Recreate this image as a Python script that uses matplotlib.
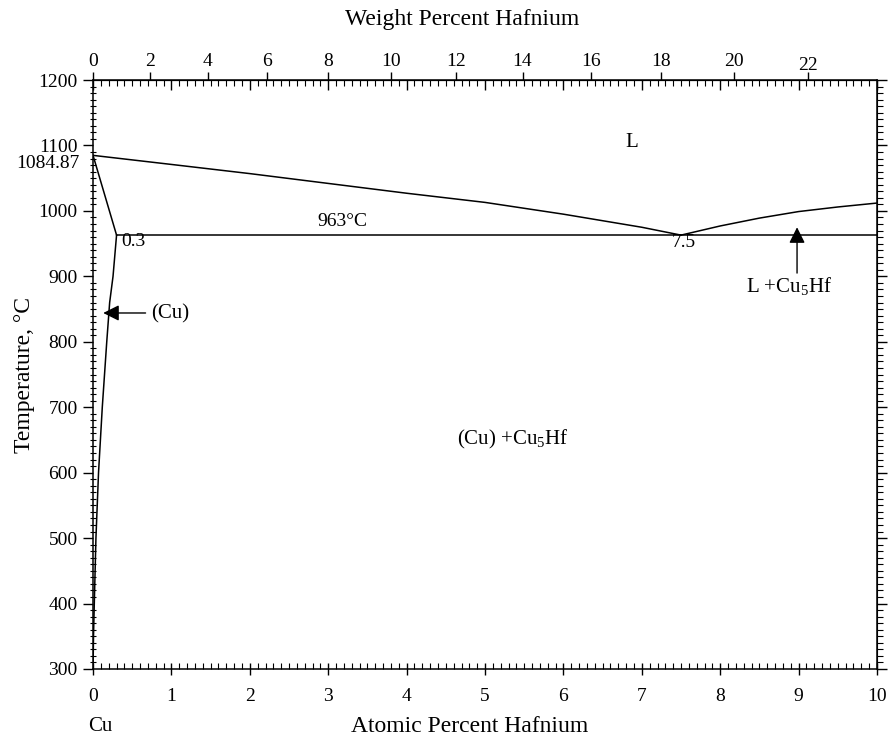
import numpy as np
import matplotlib
matplotlib.use('Agg')
import matplotlib.pyplot as plt
from matplotlib.ticker import MultipleLocator, FixedLocator, NullLocator

plt.rcParams['font.family'] = ['Liberation Serif', 'DejaVu Serif']
plt.rcParams['mathtext.fontset'] = 'custom'
plt.rcParams['mathtext.rm'] = 'Liberation Serif'
plt.rcParams['mathtext.it'] = 'Liberation Serif:italic'

# ── data (atomic % Hf, temperature °C) ───────────────────────
M_CU, M_HF = 63.546, 178.49

liq_left_x = [0, 1, 2, 3, 4, 5, 6, 7, 7.5]
liq_left_t = [1084.87, 1071, 1057, 1042, 1027, 1013, 995, 975, 963]

liq_right_x = [7.5, 8, 8.5, 9, 9.5, 10]
liq_right_t = [963, 977, 989, 999, 1006, 1012]

solidus_x = [0, 0.3]
solidus_t = [1084.87, 963]

solvus_x = [0.3, 0.255, 0.212, 0.175, 0.118, 0.07, 0.037, 0.016, 0.006, 0.0]
solvus_t = [963, 900, 860, 800, 700, 600, 500, 400, 350, 300]

eutectic_x = [0.3, 10]
eutectic_t = [963, 963]

at_ticks = [0, 1, 2, 3, 4, 5, 6, 7, 8, 9, 10]
t_ticks = [300, 400, 500, 600, 700, 800, 900, 1000, 1100, 1200]
wt_ticks = [0, 2, 4, 6, 8, 10, 12, 14, 16, 18, 20, 22]


def at2wt(a):
    a = np.asarray(a, dtype=float)
    return 100 * a * M_HF / (a * M_HF + (100 - a) * M_CU)


def wt2at(w):
    w = np.asarray(w, dtype=float)
    return 100 * (w / M_HF) / (w / M_HF + (100 - w) / M_CU)


fig = plt.figure(figsize=(8.92, 7.41), dpi=100)
ax = fig.add_axes([0.1043, 0.0972, 0.8789, 0.7948])

lw = 1.1
ax.plot(liq_left_x, liq_left_t, 'k-', lw=lw)
ax.plot(liq_right_x, liq_right_t, 'k-', lw=lw)
ax.plot(solidus_x, solidus_t, 'k-', lw=lw)
ax.plot(solvus_x, solvus_t, 'k-', lw=lw)
ax.plot(eutectic_x, eutectic_t, 'k-', lw=lw)

ax.set_xlim(0, 10)
ax.set_ylim(300, 1200)

fs = 14      # tick labels
fs_lab = 17  # axis titles
fs_txt = 15  # phase labels

# bottom / left ticks
ax.xaxis.set_major_locator(FixedLocator(at_ticks))
ax.xaxis.set_minor_locator(MultipleLocator(0.1))
ax.yaxis.set_major_locator(FixedLocator(t_ticks))
ax.yaxis.set_minor_locator(MultipleLocator(10))
ax.tick_params(axis='x', which='major', direction='inout', length=9, width=1, labelsize=fs, pad=9)
ax.tick_params(axis='x', which='minor', direction='in', length=4, width=0.8)
ax.tick_params(axis='y', which='major', direction='out', length=7, width=1, labelsize=fs, pad=4)
ax.tick_params(axis='y', which='minor', direction='inout', length=5, width=0.8)
for s in ax.spines.values():
    s.set_linewidth(1.1)

# top: atomic ticks pointing in
top_at = ax.secondary_xaxis('top', functions=(lambda x: x, lambda x: x))
top_at.xaxis.set_major_locator(FixedLocator(at_ticks))
top_at.xaxis.set_minor_locator(MultipleLocator(0.1))
top_at.tick_params(which='major', direction='in', length=7, width=1, labeltop=False)
top_at.tick_params(which='minor', direction='in', length=4, width=0.8)

# top: weight percent scale
top_wt = ax.secondary_xaxis('top', functions=(at2wt, wt2at))
top_wt.xaxis.set_major_locator(FixedLocator(wt_ticks))
top_wt.xaxis.set_minor_locator(NullLocator())
top_wt.tick_params(which='major', direction='out', length=6, width=1, labelsize=fs, pad=1.5)
top_wt.set_xlabel('Weight Percent Hafnium', fontsize=fs_lab, va='center')
top_wt.xaxis.set_label_coords(0.471, 1.102, transform=ax.transAxes)
wt_tick_objs = top_wt.xaxis.get_major_ticks()
if len(wt_tick_objs) == len(wt_ticks):
    wt_tick_objs[-1].set_pad(-2)

# right: ticks pointing out
right = ax.secondary_yaxis('right', functions=(lambda y: y, lambda y: y))
right.yaxis.set_major_locator(FixedLocator(t_ticks))
right.yaxis.set_minor_locator(MultipleLocator(10))
right.tick_params(which='major', direction='out', length=7, width=1, labelright=False)
right.tick_params(which='minor', direction='out', length=4, width=0.8)

ax.set_xlabel('Atomic Percent Hafnium', fontsize=fs_lab, va='center')
ax.xaxis.set_label_coords(0.48, -0.097)
ax.set_ylabel('Temperature, °C', fontsize=fs_lab)
ax.yaxis.set_label_coords(-0.0735, 0.5)

# melting point of Cu as extra label
ax.annotate('1084.87', xy=(0, 1084.87), xycoords=('axes fraction', 'data'),
            xytext=(-13, -8), textcoords='offset pixels',
            ha='right', va='center', fontsize=fs)
ax.annotate('Cu', xy=(0, 0), xycoords='axes fraction',
            xytext=(7, -58), textcoords='offset pixels',
            ha='center', va='center', fontsize=fs_txt)

# phase labels
ax.text(6.875, 1105, 'L', ha='center', va='center', fontsize=fs_txt)
ax.text(3.18, 984, '963°C', ha='center', va='center', fontsize=fs)
ax.text(0.36, 954, '0.3', ha='left', va='center', fontsize=fs)
ax.text(7.53, 952, '7.5', ha='center', va='center', fontsize=fs)
ax.text(5.36, 650, r'(Cu) +Cu$_{\mathrm{5}}$Hf', ha='center', va='center', fontsize=fs_txt)

arrow = dict(arrowstyle='-|>', color='black', lw=1.0, mutation_scale=24,
             shrinkA=0, shrinkB=0)
ax.annotate('', xy=(0.13, 844), xytext=(0.67, 844), arrowprops=arrow)
ax.text(0.74, 843, '(Cu)', ha='left', va='center', fontsize=fs_txt)
ax.annotate('', xy=(8.98, 975), xytext=(8.98, 905), arrowprops=arrow)
ax.text(8.88, 885, r'L +Cu$_{\mathrm{5}}$Hf', ha='center', va='center', fontsize=fs_txt)

plt.savefig('out.png', dpi=100)
